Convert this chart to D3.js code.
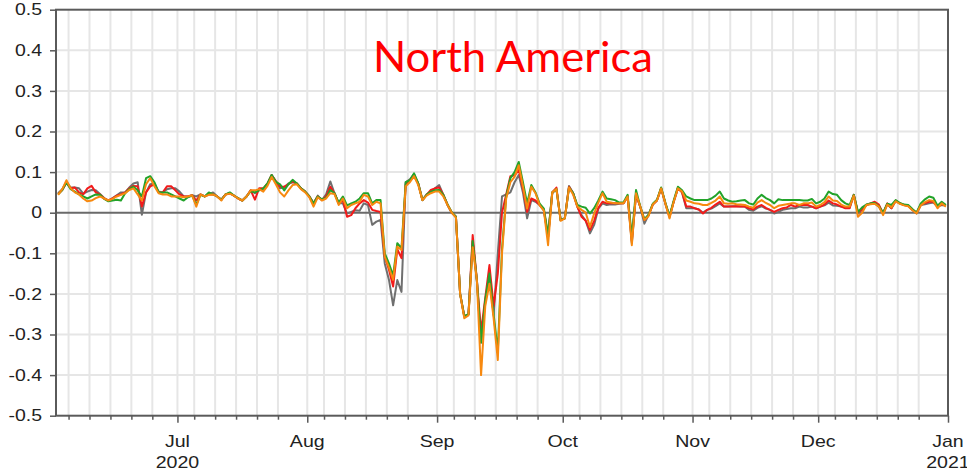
<!DOCTYPE html>
<html>
<head>
<meta charset="utf-8">
<script src="https://cdn.jsdelivr.net/npm/d3@7"></script>
<style>
  html, body { margin: 0; padding: 0; background: #fff; }
  svg { display: block; }
  .tick-label { font-family: "Liberation Sans", Arial, sans-serif; fill: #222; }
</style>
</head>
<body>
<svg id="chart" width="967" height="472"></svg>
<script>
// Daily values, one per day from 2 Jun 2020 to 31 Dec 2020
const startDay = "2020-06-02";
const greySeries = [
  0.048,0.058,0.076,0.062,0.062,0.06,0.047,0.052,0.056,0.055,
  0.046,0.036,0.03,0.036,0.043,0.05,0.05,0.062,0.072,0.075,
  -0.005,0.05,0.07,0.072,0.052,0.05,0.058,0.06,0.06,0.052,
  0.04,0.04,0.043,0.04,0.045,0.04,0.045,0.05,0.04,0.032,
  0.045,0.048,0.042,0.035,0.03,0.04,0.055,0.048,0.056,0.058,
  0.07,0.093,0.076,0.06,0.062,0.072,0.075,0.072,0.06,0.052,
  0.04,0.023,0.042,0.031,0.045,0.077,0.048,0.023,0.023,-0.002,
  0.002,0.006,0.005,0.023,0.019,-0.03,-0.022,-0.018,-0.125,-0.165,
  -0.228,-0.166,-0.195,0.075,0.082,0.095,0.072,0.031,0.045,0.052,
  0.06,0.068,0.044,0.019,0.0,-0.01,-0.2,-0.256,-0.25,-0.07,
  -0.166,-0.32,-0.22,-0.158,-0.252,-0.1,0.04,0.045,0.05,0.075,
  0.093,0.05,-0.014,0.031,0.027,0.019,0.005,-0.06,0.048,0.058,
  -0.018,-0.014,0.066,0.048,0.014,-0.006,-0.02,-0.051,-0.03,0.01,
  0.023,0.019,0.021,0.02,0.022,0.023,0.04,-0.075,0.045,0.015,
  -0.027,-0.006,0.02,0.03,0.06,0.023,-0.01,0.027,0.06,0.05,
  0.011,0.011,0.011,0.008,0.0,0.007,0.01,0.016,0.023,0.015,
  0.015,0.016,0.016,0.015,0.015,0.007,0.005,0.012,0.016,0.01,
  0.007,-0.002,0.002,0.007,0.009,0.011,0.011,0.015,0.013,0.013,
  0.015,0.011,0.015,0.018,0.025,0.018,0.017,0.015,0.013,0.012,
  0.044,-0.002,0.007,0.019,0.022,0.023,0.015,-0.002,0.021,0.011,
  0.029,0.023,0.019,0.017,0.007,-0.002,0.019,0.021,0.023,0.025,
  0.015,0.019,0.017
];
const redSeries = [
  0.046,0.056,0.074,0.06,0.062,0.05,0.045,0.06,0.066,0.05,
  0.045,0.035,0.03,0.035,0.042,0.045,0.05,0.06,0.066,0.065,
  0.015,0.05,0.065,0.07,0.05,0.05,0.065,0.065,0.055,0.045,
  0.04,0.04,0.043,0.03,0.045,0.04,0.045,0.045,0.04,0.032,
  0.045,0.048,0.042,0.035,0.03,0.04,0.055,0.032,0.06,0.06,
  0.072,0.093,0.078,0.064,0.064,0.07,0.077,0.072,0.06,0.052,
  0.04,0.023,0.04,0.031,0.04,0.064,0.048,0.023,0.031,-0.01,
  -0.006,0.011,0.023,0.031,0.025,0.007,0.004,0.002,-0.108,-0.14,
  -0.182,-0.09,-0.112,0.07,0.08,0.09,0.072,0.031,0.044,0.056,
  0.06,0.062,0.044,0.019,0.0,-0.01,-0.2,-0.256,-0.25,-0.055,
  -0.166,-0.293,-0.21,-0.129,-0.23,-0.15,0.0,0.045,0.09,0.092,
  0.105,0.06,0.002,0.035,0.03,0.019,0.007,-0.06,0.05,0.062,
  -0.018,-0.014,0.064,0.048,0.015,-0.01,-0.02,-0.043,-0.02,0.012,
  0.027,0.023,0.023,0.023,0.023,0.023,0.04,-0.07,0.045,0.015,
  -0.018,-0.006,0.02,0.03,0.06,0.023,-0.01,0.027,0.06,0.05,
  0.015,0.015,0.011,0.008,-0.002,0.007,0.012,0.02,0.027,0.015,
  0.015,0.015,0.016,0.015,0.015,0.011,0.008,0.015,0.019,0.012,
  0.007,0.002,0.007,0.011,0.013,0.019,0.015,0.019,0.019,0.019,
  0.015,0.011,0.015,0.02,0.03,0.023,0.02,0.015,0.011,0.011,
  0.044,0.002,0.007,0.019,0.023,0.027,0.02,-0.002,0.023,0.011,
  0.03,0.023,0.019,0.017,0.007,0.0,0.019,0.024,0.027,0.027,
  0.015,0.021,0.019
];
const greenSeries = [
  0.045,0.056,0.075,0.058,0.052,0.045,0.04,0.035,0.04,0.045,
  0.044,0.034,0.028,0.03,0.032,0.03,0.048,0.058,0.064,0.055,
  0.04,0.085,0.09,0.075,0.05,0.05,0.05,0.045,0.04,0.035,
  0.03,0.038,0.042,0.02,0.044,0.04,0.05,0.045,0.04,0.032,
  0.045,0.05,0.042,0.036,0.03,0.04,0.053,0.05,0.055,0.06,
  0.072,0.093,0.076,0.07,0.055,0.07,0.081,0.072,0.06,0.052,
  0.04,0.023,0.04,0.033,0.036,0.056,0.048,0.025,0.04,0.018,
  0.023,0.027,0.035,0.048,0.048,0.023,0.031,0.031,-0.1,-0.125,
  -0.155,-0.075,-0.088,0.075,0.08,0.097,0.072,0.031,0.044,0.052,
  0.055,0.056,0.044,0.02,0.001,-0.01,-0.2,-0.255,-0.25,-0.07,
  -0.166,-0.32,-0.215,-0.15,-0.25,-0.342,-0.09,0.04,0.085,0.1,
  0.125,0.075,0.023,0.068,0.05,0.022,0.01,-0.055,0.05,0.058,
  -0.018,-0.014,0.062,0.048,0.019,0.015,0.012,-0.002,0.011,0.03,
  0.052,0.035,0.033,0.031,0.025,0.025,0.044,-0.06,0.056,0.016,
  -0.016,-0.005,0.022,0.032,0.062,0.025,-0.008,0.03,0.064,0.055,
  0.04,0.035,0.031,0.031,0.031,0.031,0.035,0.042,0.052,0.035,
  0.03,0.027,0.028,0.03,0.031,0.023,0.02,0.035,0.044,0.036,
  0.031,0.023,0.033,0.031,0.031,0.031,0.031,0.031,0.03,0.03,
  0.034,0.023,0.027,0.035,0.052,0.046,0.044,0.031,0.023,0.019,
  0.044,0.002,0.013,0.02,0.023,0.024,0.016,0.0,0.022,0.019,
  0.031,0.024,0.02,0.019,0.009,0.0,0.023,0.033,0.04,0.037,
  0.017,0.027,0.019
];
const orangeSeries = [
  0.044,0.058,0.08,0.06,0.05,0.045,0.035,0.028,0.03,0.036,
  0.04,0.035,0.03,0.034,0.04,0.044,0.048,0.056,0.06,0.045,
  0.03,0.07,0.085,0.065,0.048,0.045,0.045,0.04,0.04,0.04,
  0.038,0.04,0.043,0.015,0.045,0.04,0.044,0.045,0.04,0.03,
  0.045,0.047,0.042,0.035,0.03,0.04,0.055,0.055,0.058,0.052,
  0.066,0.088,0.07,0.05,0.04,0.055,0.068,0.07,0.058,0.05,
  0.038,0.015,0.038,0.03,0.035,0.048,0.046,0.019,0.035,0.011,
  0.019,0.023,0.027,0.044,0.04,0.019,0.027,0.023,-0.108,-0.135,
  -0.165,-0.083,-0.092,0.065,0.075,0.09,0.068,0.031,0.042,0.048,
  0.052,0.052,0.04,0.019,0.0,-0.012,-0.2,-0.26,-0.253,-0.085,
  -0.166,-0.4,-0.23,-0.175,-0.26,-0.363,-0.1,0.035,0.075,0.088,
  0.117,0.065,0.01,0.064,0.048,0.018,0.005,-0.08,0.05,0.058,
  -0.02,-0.014,0.062,0.044,0.015,0.007,0.0,-0.035,-0.002,0.025,
  0.048,0.027,0.025,0.023,0.023,0.023,0.04,-0.08,0.048,0.015,
  -0.018,-0.008,0.02,0.03,0.06,0.023,-0.014,0.027,0.06,0.052,
  0.03,0.027,0.023,0.022,0.019,0.019,0.024,0.03,0.04,0.023,
  0.022,0.023,0.021,0.02,0.019,0.015,0.012,0.025,0.031,0.024,
  0.019,0.011,0.017,0.019,0.021,0.023,0.023,0.019,0.023,0.023,
  0.025,0.015,0.019,0.026,0.04,0.03,0.029,0.02,0.015,0.015,
  0.042,-0.01,0.0,0.019,0.021,0.022,0.015,-0.006,0.02,0.013,
  0.028,0.022,0.018,0.016,0.006,-0.002,0.018,0.026,0.031,0.029,
  0.011,0.023,0.015
];
const seriesColors = ["#6f6f6f", "#f21b1b", "#22a32a", "#f7890f"];
const yTickValues = [-0.5, -0.4, -0.3, -0.2, -0.1, 0, 0.1, 0.2, 0.3, 0.4, 0.5];
const monthLabels = ["Jul", "Aug", "Sep", "Oct", "Nov", "Dec", "Jan"];
const yearLabels = { "Jul": "2020", "Jan": "2021" };
const chartTitle = "North America";

const svg = d3.select("#chart");
const plotLeft = 56, plotRight = 948, plotTop = 9.7, plotBottom = 415.7;

const parse = d3.utcParse("%Y-%m-%d");
const t0 = parse(startDay);
const t1 = parse("2021-01-01");
const x = d3.scaleUtc().domain([t0, t1]).range([plotLeft, plotRight]);
const y = d3.scaleLinear().domain([-0.5, 0.5]).range([plotBottom, plotTop]);

// widen axis text a little (the labels are drawn slightly stretched)
function widen(sel, factor) {
  sel.each(function () {
    const w = this.getComputedTextLength();
    d3.select(this).attr("textLength", w * factor).attr("lengthAdjust", "spacingAndGlyphs");
  });
}

// tick dates: the 1st of every month plus the 5th, 10th, 15th, 20th, 25th
const tickDates = d3.utcDay.range(t0, d3.utcDay.offset(t1, 1))
  .filter(d => [1, 5, 10, 15, 20, 25].includes(d.getUTCDate()));
const monthStarts = tickDates.filter(d => d.getUTCDate() === 1);

// grid
const grid = svg.append("g");
grid.selectAll("line.vg").data(tickDates).join("line")
  .attr("x1", d => x(d)).attr("x2", d => x(d))
  .attr("y1", plotTop).attr("y2", plotBottom)
  .attr("stroke", "#e6e6e6").attr("stroke-width", 2);
grid.selectAll("line.hg").data(yTickValues.filter(v => v !== 0 && Math.abs(v) < 0.5)).join("line")
  .attr("x1", plotLeft).attr("x2", plotRight)
  .attr("y1", d => y(d)).attr("y2", d => y(d))
  .attr("stroke", "#e6e6e6").attr("stroke-width", 2);

// zero line
svg.append("line")
  .attr("x1", plotLeft).attr("x2", plotRight)
  .attr("y1", y(0)).attr("y2", y(0))
  .attr("stroke", "#6a6a6a").attr("stroke-width", 2);

// series lines
const dayOf = i => d3.utcHour.offset(d3.utcDay.offset(t0, i), 12);
const line = d3.line().x((d, i) => x(dayOf(i))).y(d => y(d));
const plot = svg.append("g");
[greySeries, redSeries, greenSeries, orangeSeries].forEach((s, k) => {
  plot.append("path")
    .datum(s)
    .attr("fill", "none")
    .attr("stroke", seriesColors[k])
    .attr("stroke-width", 2)
    .attr("stroke-linejoin", "round")
    .attr("d", line);
});

// frame
svg.append("rect")
  .attr("x", plotLeft).attr("y", plotTop)
  .attr("width", plotRight - plotLeft).attr("height", plotBottom - plotTop)
  .attr("fill", "none").attr("stroke", "#5a5a5a").attr("stroke-width", 2);

// y axis (plain hyphen for negatives)
const yAxis = d3.axisLeft(y).tickValues(yTickValues).tickSize(6).tickPadding(8)
  .tickFormat(d => String(d));
const gy = svg.append("g").attr("transform", `translate(${plotLeft},0)`).call(yAxis);
gy.select(".domain").remove();
gy.selectAll(".tick line").attr("stroke", "#5a5a5a").attr("stroke-width", 1.5);
gy.selectAll(".tick text")
  .attr("class", "tick-label")
  .style("font-size", "16.5px")
  .attr("fill", "#222");
widen(gy.selectAll(".tick text"), 1.18);

// x axis
const xAxis = d3.axisBottom(x).tickValues(tickDates)
  .tickSize(4).tickFormat("");
const gx = svg.append("g").attr("transform", `translate(0,${plotBottom})`).call(xAxis);
gx.select(".domain").remove();
gx.selectAll(".tick line").attr("stroke", "#5a5a5a").attr("stroke-width", 1.5)
  .attr("y2", d => d.getUTCDate() === 1 ? 7 : 4);

const labels = svg.append("g");
monthStarts.forEach((d, k) => {
  const m = monthLabels[k];
  labels.append("text")
    .attr("class", "tick-label")
    .attr("x", x(d)).attr("y", 447)
    .attr("text-anchor", "middle")
    .style("font-size", "17px")
    .text(m);
  if (yearLabels[m]) {
    labels.append("text")
      .attr("class", "tick-label")
      .attr("x", x(d)).attr("y", 468)
      .attr("text-anchor", "middle")
      .style("font-size", "17px")
      .text(yearLabels[m]);
  }
});
widen(labels.selectAll("text"), 1.15);

// title
svg.append("text")
  .attr("x", 373).attr("y", 72)
  .attr("textLength", 280)
  .attr("lengthAdjust", "spacingAndGlyphs")
  .style("font-family", "Lato, 'Open Sans', sans-serif")
  .style("font-size", "42px")
  .attr("fill", "#ff0000")
  .text(chartTitle);
</script>
</body>
</html>
